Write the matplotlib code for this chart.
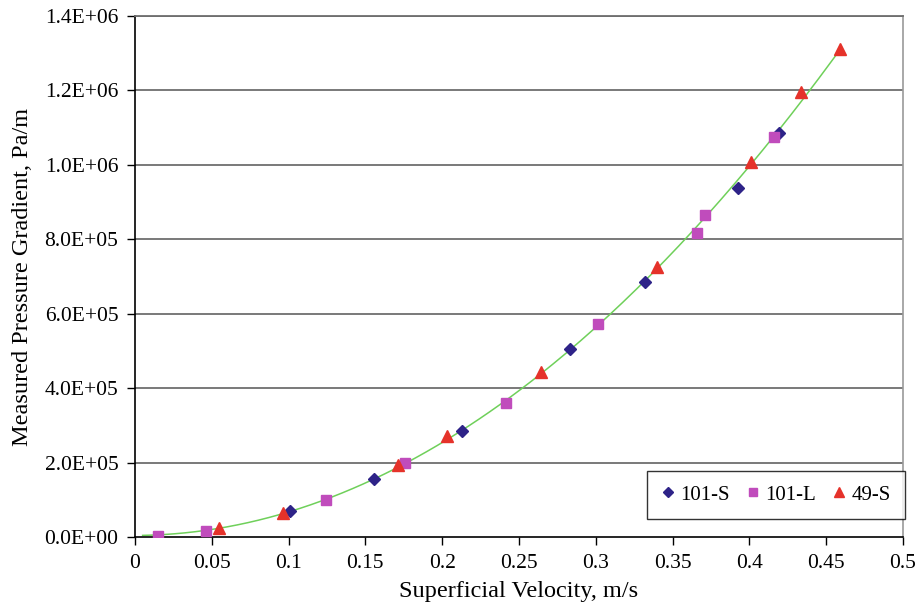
import numpy as np
import matplotlib
matplotlib.use("Agg")
import matplotlib.pyplot as plt
from matplotlib.ticker import FuncFormatter

plt.rcParams['font.family'] = ['Liberation Serif', 'DejaVu Serif']

# superficial velocity (m/s) and measured pressure gradient (Pa/m) per series
v_101s = [0.1011, 0.1554, 0.2131, 0.2834, 0.3322, 0.3926, 0.4195]
dp_101s = [69.9e3, 155.9e3, 285.6e3, 504.6e3, 685.2e3, 937.8e3, 1086.5e3]

v_101l = [0.0152, 0.0460, 0.1241, 0.1758, 0.2413, 0.3015, 0.3657, 0.3711, 0.4162]
dp_101l = [3.0e3, 16.0e3, 98.6e3, 198.0e3, 359.0e3, 572.0e3, 817.7e3, 864.4e3, 1075.7e3]

v_49s = [0.0545, 0.0966, 0.1712, 0.2029, 0.2643, 0.3400, 0.4010, 0.4334, 0.4590]
dp_49s = [23.0e3, 64.5e3, 193.5e3, 271.0e3, 444.0e3, 725.5e3, 1007.7e3, 1195.0e3, 1310.5e3]

xticks = np.arange(0, 0.51, 0.05)
yticks = np.arange(0, 1.41e6, 2e5)

# quadratic trend through all measurements
v_all = np.array(v_101s + v_101l + v_49s)
dp_all = np.array(dp_101s + dp_101l + dp_49s)
coef = np.polyfit(v_all, dp_all, 2)
v_fit = np.linspace(0.005, max(v_all), 200)
dp_fit = np.polyval(coef, v_fit)

fig = plt.figure(figsize=(9.18, 6.11), dpi=100)
ax = fig.add_axes([0.147, 0.1211, 0.8367, 0.8527])

for y in yticks[1:]:
    ax.axhline(y, color='#6e6e6e', lw=1.3, zorder=1)

ax.plot(v_fit, dp_fit, color='#6fd05a', lw=1.1, zorder=2)
ax.plot(v_101s, dp_101s, 'D', color='#2e2388', ms=6, ls='none', label='101-S', zorder=3)
ax.plot(v_101l, dp_101l, 's', color='#c04cbc', ms=7, ls='none', label='101-L', zorder=3)
ax.plot(v_49s, dp_49s, '^', color='#e5322a', ms=8, ls='none', label='49-S', zorder=3)

ax.set_xlim(0, 0.5)
ax.set_ylim(0, 1.4e6)
ax.set_xticks(xticks)
ax.set_yticks(yticks)
ax.xaxis.set_major_formatter(FuncFormatter(lambda v, p: '0' if v == 0 else f'{v:g}'))
ax.yaxis.set_major_formatter(FuncFormatter(lambda v, p: f'{v:.1E}'))
ax.tick_params(axis='both', direction='out', length=6, width=1, labelsize=15.5, pad=6)

for s in ['left', 'bottom']:
    ax.spines[s].set_color('black')
    ax.spines[s].set_linewidth(1.2)
ax.spines['top'].set_color('#6e6e6e')
ax.spines['top'].set_linewidth(1.3)
ax.spines['right'].set_color('#9a9a9a')
ax.spines['right'].set_linewidth(1.2)

ax.set_xlabel('Superficial Velocity, m/s', fontsize=17.5, labelpad=6)
ax.set_ylabel('Measured Pressure Gradient, Pa/m', fontsize=17.5, labelpad=8)

leg = ax.legend(loc='lower right', bbox_to_anchor=(1.003, 0.034), ncol=3, fontsize=15,
                frameon=True, fancybox=False, edgecolor='black', borderaxespad=0,
                handletextpad=0.3, columnspacing=0.8, borderpad=0.7, handlelength=0.6,
                markerscale=0.9)
leg.get_frame().set_linewidth(1.0)

fig.savefig('out.png', dpi=100)
